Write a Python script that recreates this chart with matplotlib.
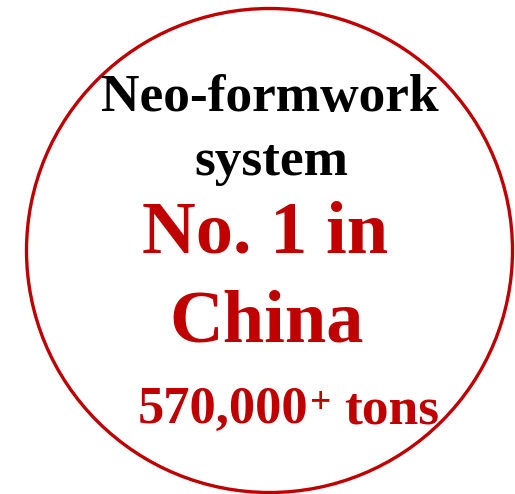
import matplotlib
matplotlib.use("Agg")
import matplotlib.pyplot as plt
from matplotlib.patches import Ellipse

W, H = 515, 494
RED = "#C00000"
title_lines = ["Neo-formwork", "system"]
rank_lines = ["No. 1 in", "China"]
amount_parts = ["570,000", "+", "tons"]

fig = plt.figure(figsize=(W / 100, H / 100), dpi=100)
ax = fig.add_axes([0, 0, 1, 1])
ax.set_xlim(0, W)
ax.set_ylim(H, 0)
ax.axis("off")

ax.add_patch(Ellipse((269.5, 250.5), 486, 484, fill=False, edgecolor=RED, lw=2.4))

serif = ["Liberation Serif", "DejaVu Serif"]
ax.text(270, 111, title_lines[0], ha="center", va="baseline", family=serif,
        weight="bold", fontsize=38.4, color="black")
ax.text(271, 175, title_lines[1], ha="center", va="baseline", family=serif,
        weight="bold", fontsize=38.4, color="black")
ax.text(265.5, 252, rank_lines[0], ha="center", va="baseline", family=serif,
        weight="bold", fontsize=53.6, color=RED)
ax.text(267, 341, rank_lines[1], ha="center", va="baseline", family=serif,
        weight="bold", fontsize=53.6, color=RED)

ax.text(138, 423, amount_parts[0], ha="left", va="baseline", family=serif,
        weight="bold", fontsize=37.8, color=RED)
ax.text(321, 413, amount_parts[1], ha="center", va="baseline", family=serif,
        weight="bold", fontsize=27, color=RED)
ax.text(439, 423, amount_parts[2], ha="right", va="baseline", family=serif,
        weight="bold", fontsize=38.5, color=RED)

fig.savefig("out.png", dpi=100, facecolor="white")
